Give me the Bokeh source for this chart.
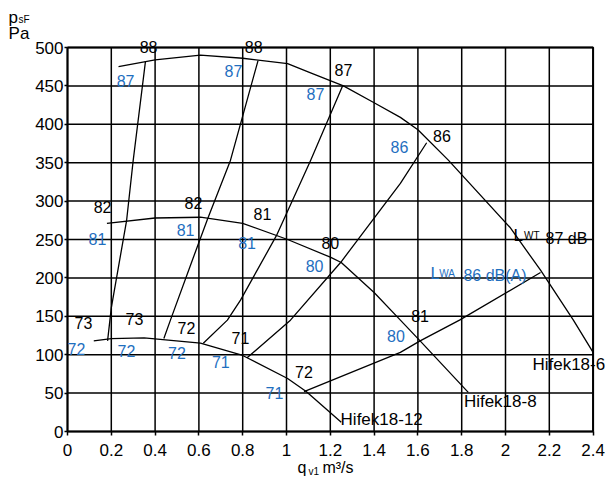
from bokeh.plotting import figure
from bokeh.models import FixedTicker, CustomJSTickFormatter, Label, Range1d
from bokeh.embed import file_html
from bokeh.resources import INLINE

# ---- data ----
x_ticks = [0, 0.2, 0.4, 0.6, 0.8, 1.0, 1.2, 1.4, 1.6, 1.8, 2.0, 2.2, 2.4]
y_ticks = [0, 50, 100, 150, 200, 250, 300, 350, 400, 450, 500]

# fan curves
fan6_q = [0.233, 0.40, 0.607, 0.80, 1.005, 1.11, 1.26, 1.40, 1.52, 1.60, 1.74, 2.02, 2.16, 2.31, 2.40]
fan6_p = [475, 484, 490, 486, 479, 467, 450, 428, 409, 393, 353, 266, 210, 145, 103]
fan8_q = [0.18, 0.40, 0.607, 0.80, 1.005, 1.20, 1.25, 1.40, 1.52, 1.61, 1.83]
fan8_p = [271, 278, 279, 271, 250, 227, 220, 181, 145, 118, 51]
fan12_q = [0.12, 0.20, 0.35, 0.607, 0.80, 1.005, 1.09, 1.25]
fan12_p = [118, 121, 122, 115, 99, 69, 52, 12]

# sound level lines
s1_q = [0.183, 0.20, 0.27, 0.30, 0.356]
s1_p = [118, 161, 275, 353, 482]
s2_q = [0.44, 0.47, 0.57, 0.64, 0.744, 0.87]
s2_p = [121, 145, 223, 277, 353, 483]
s3_q = [0.62, 0.73, 0.79, 0.954, 1.11, 1.256]
s3_p = [115, 145, 171, 255, 353, 450]
s4_q = [0.82, 1.018, 1.247, 1.52, 1.64]
s4_p = [96, 145, 220, 323, 376]
s5_q = [1.08, 1.52, 1.61, 1.79, 2.16]
s5_p = [52, 103, 118, 145, 207]

# level labels
lwt_labels = ["88", "88", "87", "86", "82", "82", "81", "80", "81", "73", "73", "72", "71", "72"]
lwt_q = [0.37, 0.85, 1.26, 1.71, 0.16, 0.575, 0.89, 1.20, 1.61, 0.073, 0.306, 0.543, 0.79, 1.08]
lwt_p = [501, 501, 471, 385, 292, 297, 283, 245, 150, 141, 146, 135, 122, 78]
lwa_labels = ["87", "87", "87", "86", "81", "81", "81", "80", "80", "72", "72", "72", "71", "71"]
lwa_q = [0.265, 0.758, 1.132, 1.516, 0.137, 0.539, 0.82, 1.128, 1.50, 0.041, 0.269, 0.50, 0.70, 0.945]
lwa_p = [457, 469, 440, 371, 251, 263, 246, 215, 124, 107, 105, 101.6, 90, 49.5]

fan_names = ["Hifek18-6", "Hifek18-8", "Hifek18-12"]
fan_name_q = [2.123, 1.81, 1.247]
fan_name_p = [87, 39, 15.6]

BLUE = "#1f6fbf"
FONT = "Liberation Sans"

W, H = 605, 484
X0PX, XSCALE = 67.0, 219.0      # px of q=0, px per m3/s
Y0PX, YSCALE = 431.0, 0.768     # px of p=0, px per Pa

p = figure(width=W, height=H, output_backend="svg", toolbar_location=None,
           x_range=Range1d(-X0PX / XSCALE, (W - X0PX) / XSCALE),
           y_range=Range1d((Y0PX - H) / YSCALE, Y0PX / YSCALE),
           min_border_left=0, min_border_right=0, min_border_top=0, min_border_bottom=0)
p.background_fill_color = "white"
p.border_fill_color = "white"
p.outline_line_color = None
p.xgrid.visible = False
p.ygrid.visible = False

for ax in (p.xaxis, p.yaxis):
    ax.fixed_location = 0
    ax.axis_line_color = "black"
    ax.axis_line_width = 2
    ax.major_tick_line_color = "black"
    ax.major_tick_line_width = 1.5
    ax.minor_tick_line_color = None
    ax.major_tick_in = 0
    ax.major_label_text_font = FONT
    ax.major_label_text_font_size = "17px"
    ax.major_label_text_color = "black"

p.xaxis.bounds = (0, 2.4)
p.yaxis.bounds = (0, 500)
p.xaxis.ticker = FixedTicker(ticks=x_ticks)
p.yaxis.ticker = FixedTicker(ticks=y_ticks)
p.xaxis.formatter = CustomJSTickFormatter(code="return tick.toFixed(1).replace(/\\.0$/, '');")
p.xaxis.major_tick_out = 4
p.yaxis.major_tick_out = 3
p.xaxis.major_label_standoff = 8
p.yaxis.major_label_standoff = 1

# grid inside the chart area
p.segment(x0=x_ticks, y0=0, x1=x_ticks, y1=500, line_color="black", line_width=1.5)
p.segment(x0=0, y0=y_ticks, x1=2.4, y1=y_ticks, line_color="black", line_width=1.5)
p.line([0, 2.4, 2.4], [500, 500, 0], line_color="black", line_width=2)

for qq, pp in ((fan6_q, fan6_p), (fan8_q, fan8_p), (fan12_q, fan12_p)):
    p.line(qq, pp, line_color="black", line_width=1.3, line_join="round")
for qq, pp in ((s1_q, s1_p), (s2_q, s2_p), (s3_q, s3_p), (s4_q, s4_p), (s5_q, s5_p)):
    p.line(qq, pp, line_color="black", line_width=1.3, line_join="round")

def lab(text, x, y, color="black", size="16px", align="center", baseline="middle"):
    p.add_layout(Label(x=x, y=y, text=text, text_color=color, text_font=FONT,
                       text_font_size=size, text_align=align, text_baseline=baseline))

for t, x, y in zip(lwt_labels, lwt_q, lwt_p):
    lab(t, x, y, "black")
for t, x, y in zip(lwa_labels, lwa_q, lwa_p):
    lab(t, x, y, BLUE)
for t, x, y in zip(fan_names, fan_name_q, fan_name_p):
    lab(t, x, y, "black", "17px", "left")

# L_WT / L_WA annotations
lab("L", 2.037, 255, "black", "17px", "left", "alphabetic")
lab("WT", 2.085, 255, "black", "10px", "left", "alphabetic")
lab("87 dB", 2.183, 251, "black", "16px", "left", "alphabetic")
lab("L", 1.658, 206, BLUE, "17px", "left", "alphabetic")
lab("WA", 1.697, 206, BLUE, "10px", "left", "alphabetic")
lab("86 dB(A)", 1.808, 203, BLUE, "16px", "left", "alphabetic")

# axis titles
lab("p", -0.269, 539, "black", "17px", "left", "alphabetic")
lab("sF", -0.224, 536, "black", "10px", "left", "alphabetic")
lab("Pa", -0.269, 518, "black", "17px", "left", "alphabetic")
lab("q", 1.050, -46.9, "black", "16px", "left", "alphabetic")
lab("v1", 1.100, -52, "black", "10px", "left", "alphabetic")
lab("m\u00b3/s", 1.164, -46.9, "black", "16px", "left", "alphabetic")

open("out.html", "w").write(file_html(p, INLINE))
